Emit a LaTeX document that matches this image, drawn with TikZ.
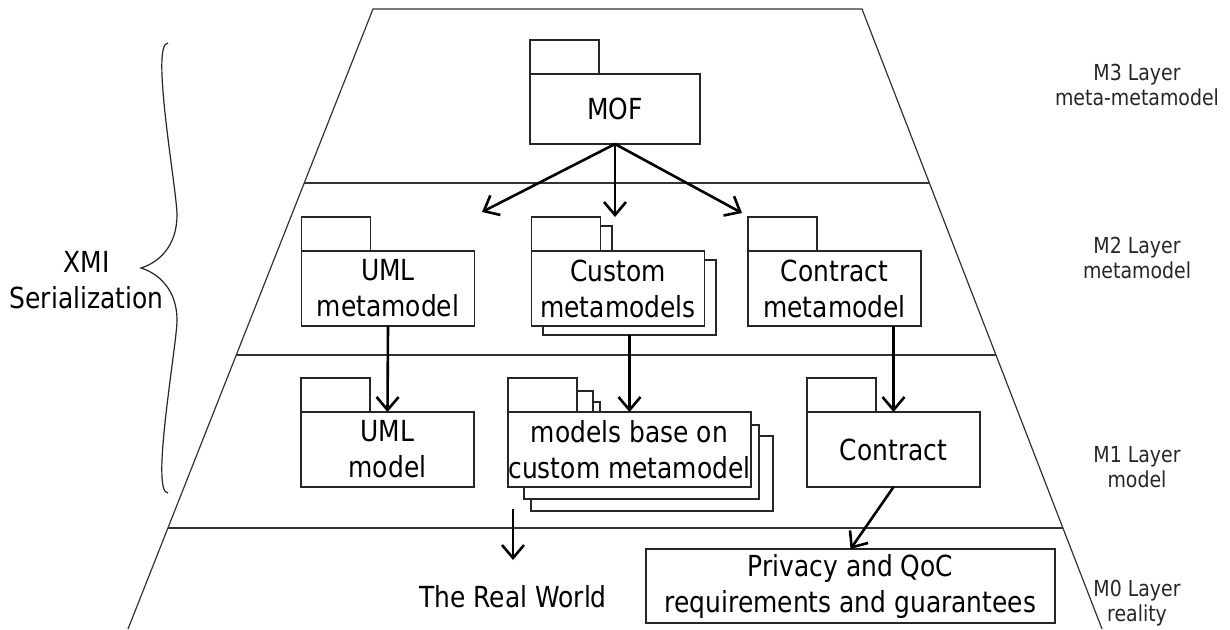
\documentclass[tikz,border=0pt]{standalone}
\usepackage{fontspec}
\setmainfont[FakeStretch=0.86]{DejaVu Sans}
\usetikzlibrary{positioning,calc,arrows.meta}

\tikzset{
  pkgbody/.style={draw=black!85, fill=white, line width=0.65pt, outer sep=0pt,
    inner sep=0pt, minimum width=86.5pt, minimum height=37.5pt, align=center,
    font=\fontsize{14.5}{18}\selectfont},
  pkgtab/.style={draw=black!85, fill=white, line width=0.65pt, outer sep=0pt,
    inner sep=0pt, minimum width=34.5pt, minimum height=17pt},
  layerline/.style={draw=black!80, line width=0.6pt},
  flow/.style={-{Straight Barb[length=6.5pt,width=11pt]}, line width=1.3pt},
  layername/.style={align=center, text=black!85, font=\fontsize{11}{12.5}\selectfont},
  plaintext/.style={align=center, font=\fontsize{14.5}{18}\selectfont},
}

\begin{document}
\begin{tikzpicture}[x=0.5pt, y=-0.5pt]
  \useasboundingbox (0,0) rectangle (1230,629);

  % pyramid and layers
  \coordinate (tl) at (373,9);
  \coordinate (tr) at (862,9);
  \coordinate (bl) at (128,629);
  \coordinate (br) at (1102,629);
  \draw[layerline] (bl) -- (tl) -- (tr) -- (br);
  \draw[layerline] ($(tl)!0.2806!(bl)$) -- ($(tr)!0.2806!(br)$);
  \draw[layerline] ($(tl)!0.558!(bl)$) -- ($(tr)!0.558!(br)$);
  \draw[layerline] ($(tl)!0.837!(bl)$) -- ($(tr)!0.837!(br)$);

  % M3
  \node[pkgbody, minimum width=85pt, minimum height=35pt] (mof) at (615,109) {MOF};
  \node[pkgtab, above right=0pt and 0pt of mof.north west] (moftab) {};

  % M2
  \node[pkgbody] (umlmeta) at (388,288.5) {UML\\metamodel};
  \node[pkgtab, above right=0pt and 0pt of umlmeta.north west] (umlmetatab) {};

  \node[pkgbody] (custback) at (629.5,297.5) {};
  \node[pkgtab, above right=0pt and 0pt of custback.north west] (custbacktab) {};
  \node[pkgbody] (custmeta) at (618,288.5) {Custom\\metamodels};
  \node[pkgtab, above right=0pt and 0pt of custmeta.north west] (custmetatab) {};

  \node[pkgbody] (contrmeta) at (834.5,288.5) {Contract\\metamodel};
  \node[pkgtab, above right=0pt and 0pt of contrmeta.north west] (contrmetatab) {};

  % M1
  \node[pkgbody] (umlmodel) at (387.5,449.5) {UML\\model};
  \node[pkgtab, above right=0pt and 0pt of umlmodel.north west] (umlmodeltab) {};

  \node[pkgbody, minimum width=121pt] (modback2) at (652,473.5) {};
  \node[pkgtab, above right=0pt and 0pt of modback2.north west] (modback2tab) {};
  \node[pkgbody, minimum width=117.5pt, minimum height=37pt] (modback1) at (641.5,462) {};
  \node[pkgtab, above right=0pt and 0pt of modback1.north west] (modback1tab) {};
  \node[pkgbody, minimum width=121.5pt] (models) at (629.5,449.5) {models base on\\custom metamodel};
  \node[pkgtab, above right=0pt and 0pt of models.north west] (modelstab) {};

  \node[pkgbody] (contract) at (893.5,449.5) {Contract};
  \node[pkgtab, above right=0pt and 0pt of contract.north west] (contracttab) {};

  % M0
  \node[pkgbody, minimum width=204.5pt, minimum height=37pt] (privacy) at (850.5,586)
    {Privacy and QoC\\requirements and guarantees};
  \coordinate (rwfrom) at (513,509);
  \coordinate (rwto) at (513,560);
  \node[plaintext, below=9pt of rwto] (realworld) {The Real World};

  % arrows
  \coordinate (tipuml) at (482,212);
  \coordinate (tipcust) at (615,217);
  \coordinate (tipcontr) at (742,213);
  \draw[flow] (mof.south) -- (tipuml);
  \draw[flow] (mof.south) -- (tipcust);
  \draw[flow] (mof.south) -- (tipcontr);
  \draw[flow] (umlmeta.south) -- (umlmodel.north);
  \draw[flow] (custback.south) -- (models.north);
  \draw[flow] (contract.north |- contrmeta.south) -- (contract.north);
  \draw[flow] (contract.south) -- (privacy.north);
  \draw[flow] (rwfrom) -- (rwto);

  % layer names
  \node[layername] (m3) at (1137,84.5) {M3 Layer\\meta-metamodel};
  \node[layername] (m2) at (1137,257.5) {M2 Layer\\metamodel};
  \node[layername] (m1) at (1137,467.5) {M1 Layer\\model};
  \node[layername] (m0) at (1137,603) {M0 Layer\\reality};

  % XMI brace
  \node[plaintext] (xmi) at (86.5,280.5) {XMI\\Serialization};
  \draw[line width=0.6pt, black!85] (168,43) .. controls (150,43) and (177,190) .. (177,215)
    .. controls (177,245) and (160,262) .. (141,268)
    .. controls (160,274) and (177,291) .. (177,320)
    .. controls (177,345) and (150,493) .. (168,493);
\end{tikzpicture}
\end{document}
